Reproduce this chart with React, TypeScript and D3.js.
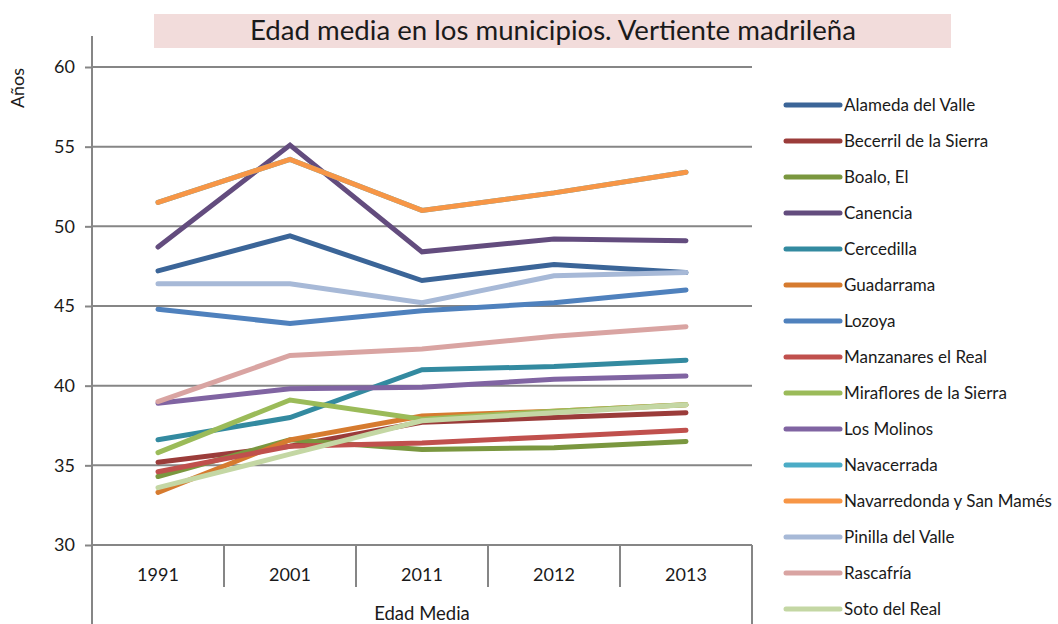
import { useRef, useEffect } from "react";
import * as d3 from "d3";

const years = ["1991", "2001", "2011", "2012", "2013"];
const yTicks = [30, 35, 40, 45, 50, 55, 60];

const names = [
	"Alameda del Valle",
	"Becerril de la Sierra",
	"Boalo, El",
	"Canencia",
	"Cercedilla",
	"Guadarrama",
	"Lozoya",
	"Manzanares el Real",
	"Miraflores de la Sierra",
	"Los Molinos",
	"Navacerrada",
	"Navarredonda y San Mamés",
	"Pinilla del Valle",
	"Rascafría",
	"Soto del Real",
];

const colors = [
	"#3b6598", "#9b3c3a", "#7a973f", "#634c7e", "#338aa0",
	"#d67b2f", "#4f81bd", "#c0504d", "#9bbb59", "#8064a2",
	"#4bacc6", "#f79646", "#a7b9d7", "#d9a4a2", "#c4d7a4",
];

const alameda = [47.2, 49.4, 46.6, 47.6, 47.1];
const becerril = [35.2, 36.2, 37.7, 38.0, 38.3];
const boalo = [34.3, 36.6, 36.0, 36.1, 36.5];
const canencia = [48.7, 55.1, 48.4, 49.2, 49.1];
const cercedilla = [36.6, 38.0, 41.0, 41.2, 41.6];
const guadarrama = [33.3, 36.6, 38.1, 38.4, 38.8];
const lozoya = [44.8, 43.9, 44.7, 45.2, 46.0];
const manzanares = [34.6, 36.2, 36.4, 36.8, 37.2];
const miraflores = [35.8, 39.1, 37.9, 38.4, 38.8];
const molinos = [38.9, 39.8, 39.9, 40.4, 40.6];
const navacerrada = [51.5, 54.2, 51.0, 52.1, 53.4];
const navarredonda = [51.5, 54.2, 51.0, 52.1, 53.4];
const pinilla = [46.4, 46.4, 45.2, 46.9, 47.1];
const rascafria = [39.0, 41.9, 42.3, 43.1, 43.7];
const soto = [33.6, 35.7, 37.8, 38.3, 38.8];

const seriesValues = [
	alameda, becerril, boalo, canencia, cercedilla, guadarrama, lozoya,
	manzanares, miraflores, molinos, navacerrada, navarredonda, pinilla,
	rascafria, soto,
];

const FONT = "Lato, 'Open Sans', sans-serif";

const App = () => {
	const svgRef = useRef(null);

	useEffect(() => {
		const w = 1058;
		const h = 624;
		const svg = d3.select(svgRef.current);
		svg.selectAll("*").remove();

		const left = 92;
		const right = 752;
		const top = 67;
		const bottom = 545;

		const x = d3.scaleBand().domain(years).range([left, right]);
		const y = d3.scaleLinear().domain([30, 60]).range([bottom, top]);
		const axisColor = "#868686";

		// title
		svg.append("rect")
			.attr("x", 154).attr("y", 14)
			.attr("width", 797).attr("height", 34)
			.attr("fill", "#f2dcdb");
		svg.append("text")
			.attr("x", 553).attr("y", 40)
			.attr("text-anchor", "middle")
			.attr("font-family", FONT)
			.attr("font-size", 26)
			.attr("textLength", 606)
			.attr("lengthAdjust", "spacingAndGlyphs")
			.attr("fill", "#1a1a1a")
			.text("Edad media en los municipios. Vertiente madrileña");

		// gridlines
		svg.append("g")
			.selectAll("line")
			.data(yTicks.slice(1))
			.join("line")
			.attr("x1", left).attr("x2", right)
			.attr("y1", d => y(d)).attr("y2", d => y(d))
			.attr("stroke", axisColor)
			.attr("stroke-width", 2);

		// y axis
		const yAxis = d3.axisLeft(y)
			.tickValues(yTicks)
			.tickSize(7)
			.tickPadding(10)
			.tickSizeOuter(0);
		const gy = svg.append("g")
			.attr("transform", `translate(${left}, 0)`)
			.call(yAxis);
		gy.select(".domain").remove();
		gy.selectAll(".tick line").attr("stroke", axisColor).attr("stroke-width", 2);
		gy.selectAll(".tick text")
			.attr("font-family", FONT)
			.attr("font-size", 18)
			.attr("fill", "#1a1a1a");
		svg.append("line")
			.attr("x1", left).attr("x2", left)
			.attr("y1", 36).attr("y2", h)
			.attr("stroke", axisColor).attr("stroke-width", 2);

		svg.append("text")
			.attr("transform", "translate(24, 88) rotate(-90)")
			.attr("text-anchor", "middle")
			.attr("font-family", FONT)
			.attr("font-size", 18)
			.attr("fill", "#1a1a1a")
			.text("Años");

		// x axis (category table)
		svg.append("line")
			.attr("x1", left).attr("x2", right)
			.attr("y1", bottom).attr("y2", bottom)
			.attr("stroke", axisColor).attr("stroke-width", 2);
		svg.append("g")
			.selectAll("line")
			.data(years.slice(1))
			.join("line")
			.attr("x1", d => x(d)).attr("x2", d => x(d))
			.attr("y1", bottom).attr("y2", 587)
			.attr("stroke", axisColor).attr("stroke-width", 2);
		svg.append("line")
			.attr("x1", right).attr("x2", right)
			.attr("y1", bottom).attr("y2", h)
			.attr("stroke", axisColor).attr("stroke-width", 2);
		svg.append("g")
			.selectAll("text")
			.data(years)
			.join("text")
			.attr("x", d => x(d) + x.bandwidth() / 2)
			.attr("y", 581)
			.attr("text-anchor", "middle")
			.attr("font-family", FONT)
			.attr("font-size", 18)
			.attr("fill", "#1a1a1a")
			.text(d => d);
		svg.append("text")
			.attr("x", (left + right) / 2)
			.attr("y", 620)
			.attr("text-anchor", "middle")
			.attr("font-family", FONT)
			.attr("font-size", 18.5)
			.attr("fill", "#1a1a1a")
			.text("Edad Media");

		// series lines
		const line = d3.line()
			.x((d, i) => x(years[i]) + x.bandwidth() / 2)
			.y(d => y(d));

		svg.append("g")
			.selectAll("path")
			.data(seriesValues)
			.join("path")
			.attr("d", d => line(d))
			.attr("fill", "none")
			.attr("stroke", (d, i) => colors[i])
			.attr("stroke-width", 5)
			.attr("stroke-linecap", "round")
			.attr("stroke-linejoin", "miter");

		// legend
		const legend = svg.append("g")
			.selectAll("g")
			.data(names)
			.join("g")
			.attr("transform", (d, i) => `translate(786, ${105 + i * 36})`);
		legend.append("line")
			.attr("x1", 0).attr("x2", 54)
			.attr("y1", 0).attr("y2", 0)
			.attr("stroke", (d, i) => colors[i])
			.attr("stroke-width", 5)
			.attr("stroke-linecap", "round");
		legend.append("text")
			.attr("x", 58)
			.attr("y", 6)
			.attr("font-family", FONT)
			.attr("font-size", 17)
			.attr("fill", "#1a1a1a")
			.text(d => d);

		svg.attr("width", w).attr("height", h);
	}, []);

	return (
		<svg ref={svgRef} width={1058} height={624} style={{ position: "absolute", left: 0, top: 0 }}></svg>
	);
};

export default App;
